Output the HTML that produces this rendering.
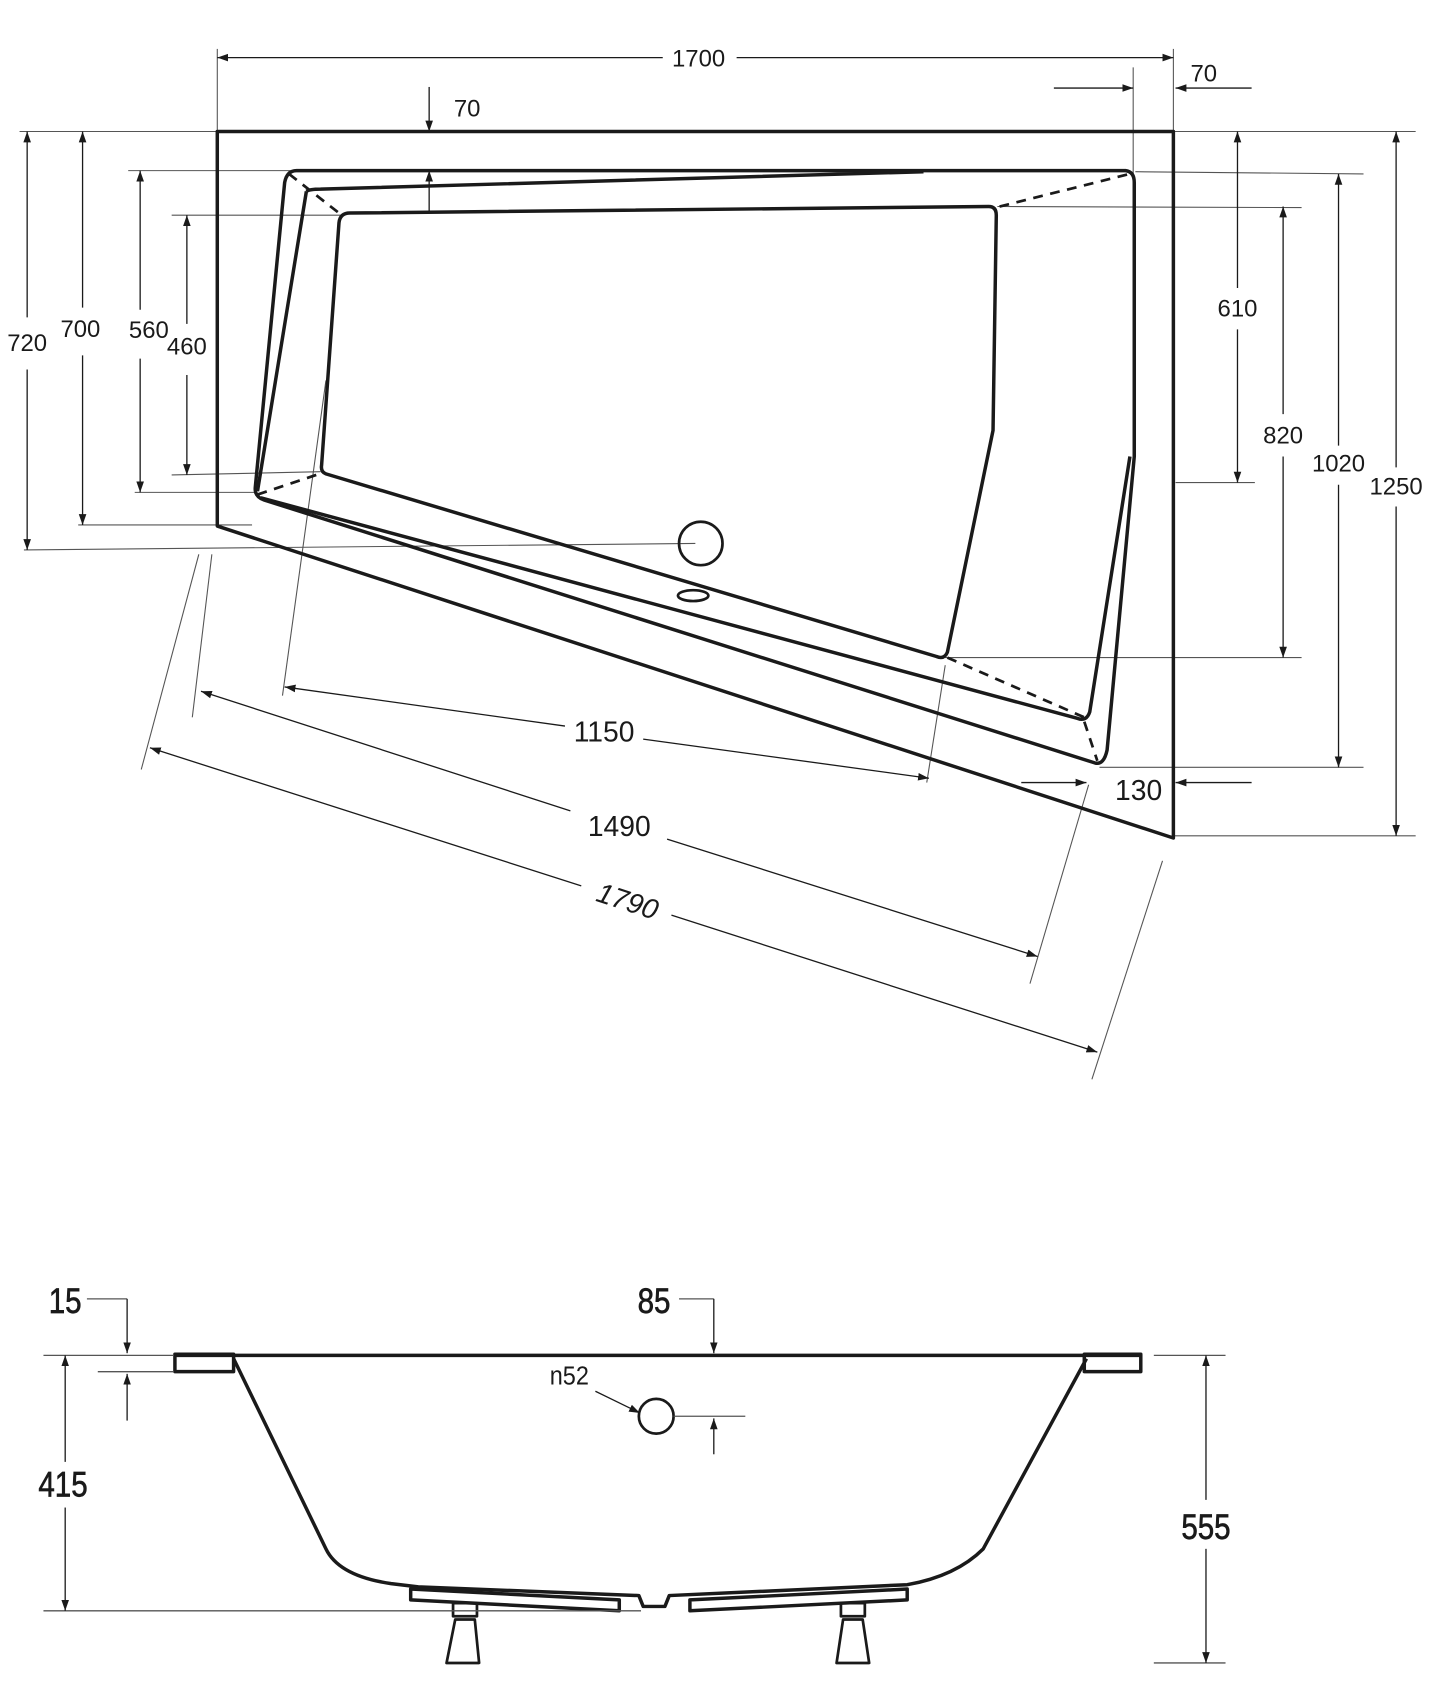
<!DOCTYPE html>
<html><head><style>
html,body{margin:0;padding:0;background:#fff}
svg{display:block}
text{font-family:"Liberation Sans",sans-serif;fill:#1a1a1a}
</style></head><body>
<svg width="1445" height="1701" viewBox="0 0 1330 1565" preserveAspectRatio="none" xmlns="http://www.w3.org/2000/svg">
<defs>
<marker id="a" viewBox="0 0 10 10" refX="10" refY="5" markerWidth="10" markerHeight="10" markerUnits="userSpaceOnUse" orient="auto-start-reverse"><path d="M0,1.5 L10,5 L0,8.5z" fill="#1a1a1a"/></marker>
</defs>
<g stroke="#1a1a1a" fill="none">
<g stroke-width="1" stroke="#555">
<line x1="200" y1="45" x2="200" y2="121"/><line x1="1080" y1="45" x2="1080" y2="121"/>
<line x1="1043" y1="62" x2="1043" y2="420"/>
<line x1="18" y1="121" x2="200" y2="121"/>
<line x1="72" y1="483" x2="232" y2="483"/>
<line x1="22" y1="506" x2="640" y2="500"/>
<line x1="118" y1="157" x2="268" y2="157"/>
<line x1="124" y1="453" x2="236" y2="453"/>
<line x1="158" y1="198" x2="315" y2="198"/>
<line x1="158" y1="437" x2="295" y2="434"/>
<line x1="1080" y1="121" x2="1303" y2="121"/>
<line x1="1045" y1="158" x2="1255" y2="160"/>
<line x1="918" y1="190" x2="1198" y2="191"/>
<line x1="1082" y1="444" x2="1155" y2="444"/>
<line x1="870" y1="605" x2="1198" y2="605"/>
<line x1="1012" y1="706" x2="1255" y2="706"/>
<line x1="1080" y1="769" x2="1303" y2="769"/>
<line x1="300" y1="350" x2="260" y2="640"/>
<line x1="870" y1="612" x2="853" y2="720"/>
<line x1="195" y1="510" x2="177" y2="660"/>
<line x1="1002" y1="722" x2="948" y2="905"/>
<line x1="183" y1="510" x2="130" y2="708"/>
<line x1="1070" y1="792" x2="1005" y2="993"/>
</g>
<g stroke-width="1.2">
<line x1="200" y1="53" x2="610" y2="53" marker-start="url(#a)"/><line x1="678" y1="53" x2="1080" y2="53" marker-end="url(#a)"/>
<line x1="970" y1="81" x2="1043" y2="81" marker-end="url(#a)"/><line x1="1152" y1="81" x2="1082" y2="81" marker-end="url(#a)"/>
<line x1="395" y1="80" x2="395" y2="121" marker-end="url(#a)"/><line x1="395" y1="195" x2="395" y2="157" marker-end="url(#a)"/>
<line x1="25" y1="121" x2="25" y2="292" marker-start="url(#a)"/><line x1="25" y1="340" x2="25" y2="506" marker-end="url(#a)"/>
<line x1="76" y1="121" x2="76" y2="283" marker-start="url(#a)"/><line x1="76" y1="327" x2="76" y2="483" marker-end="url(#a)"/>
<line x1="129" y1="157" x2="129" y2="285" marker-start="url(#a)"/><line x1="129" y1="330" x2="129" y2="453" marker-end="url(#a)"/>
<line x1="172" y1="198" x2="172" y2="298" marker-start="url(#a)"/><line x1="172" y1="345" x2="172" y2="437" marker-end="url(#a)"/>
<line x1="1139" y1="121" x2="1139" y2="265" marker-start="url(#a)"/><line x1="1139" y1="303" x2="1139" y2="444" marker-end="url(#a)"/>
<line x1="1181" y1="190" x2="1181" y2="381" marker-start="url(#a)"/><line x1="1181" y1="420" x2="1181" y2="605" marker-end="url(#a)"/>
<line x1="1232" y1="160" x2="1232" y2="410" marker-start="url(#a)"/><line x1="1232" y1="446" x2="1232" y2="706" marker-end="url(#a)"/>
<line x1="1285" y1="121" x2="1285" y2="430" marker-start="url(#a)"/><line x1="1285" y1="466" x2="1285" y2="769" marker-end="url(#a)"/>
<line x1="940" y1="720" x2="1000" y2="720" marker-end="url(#a)"/><line x1="1152" y1="720" x2="1082" y2="720" marker-end="url(#a)"/>
<line x1="262" y1="632" x2="520" y2="668" marker-start="url(#a)"/><line x1="592" y1="680" x2="855" y2="716" marker-end="url(#a)"/>
<line x1="185" y1="636" x2="525" y2="746" marker-start="url(#a)"/><line x1="614" y1="772" x2="955" y2="880" marker-end="url(#a)"/>
<line x1="138" y1="688" x2="535" y2="815" marker-start="url(#a)"/><line x1="618" y1="842" x2="1010" y2="968" marker-end="url(#a)"/>
</g>
<g stroke-width="3.2" stroke-linejoin="round">
<polygon points="200,121 1080,121 1080,771 200,484"/>
<path d="M273,157 L1036,157 Q1044,158 1044,168 L1044,420 L1019,690 Q1016,704 1008,702 L243,460 Q234,457 235,448 L262,168 Q264,157 273,157Z"/>
<path d="M282,176 Q285,174 295,174 L850,158"/>
<path d="M282,176 L237,452"/>
<path d="M1040,420 L1003,655 Q1000,664 992,661 L240,458"/>
<path d="M322,196 L910,190 Q917,190 917,198 L914,396 L872,600 Q869,607 862,604 L300,436 Q295,434 296,428 L312,205 Q313,196 322,196Z"/>
<circle cx="645" cy="500" r="20" stroke-width="2.5"/>
<ellipse cx="638" cy="548" rx="14" ry="5" stroke-width="2.5"/>
</g>
<g stroke-width="2.5" stroke-dasharray="9,7">
<line x1="266" y1="160" x2="312" y2="196"/>
<line x1="920" y1="190" x2="1040" y2="160"/>
<line x1="237" y1="455" x2="294" y2="436"/>
<line x1="872" y1="605" x2="998" y2="660"/>
<line x1="998" y1="664" x2="1010" y2="700"/>
</g>
<g stroke-width="3.2" stroke-linejoin="round">
<line x1="160" y1="1247" x2="1050" y2="1247"/>
<rect x="161" y="1246" width="54" height="16"/>
<rect x="998" y="1246" width="52" height="16"/>
<path d="M215,1250 L300,1425 Q312,1450 360,1457 L385,1460 L588,1468 L592,1478 L612,1478 L616,1468 L835,1458 Q880,1450 905,1425 L1000,1250"/>
<polygon points="378,1462 570,1472 570,1482 378,1472"/>
<polygon points="635,1472 835,1462 835,1472 635,1482"/>
<rect x="417" y="1475" width="22" height="12" stroke-width="2.5"/>
<polygon points="419,1490 437,1490 441,1530 411,1530" stroke-width="2.5"/>
<rect x="774" y="1475" width="22" height="12" stroke-width="2.5"/>
<polygon points="776,1490 794,1490 800,1530 770,1530" stroke-width="2.5"/>
<circle cx="604" cy="1303" r="16" stroke-width="2.5"/>
</g>
<g stroke-width="1.2">
<line x1="80" y1="1195" x2="117" y2="1195" stroke="#555"/><line x1="117" y1="1195" x2="117" y2="1245" marker-end="url(#a)"/>
<line x1="90" y1="1262" x2="160" y2="1262" stroke="#555"/><line x1="117" y1="1307" x2="117" y2="1264" marker-end="url(#a)"/>
<line x1="625" y1="1195" x2="657" y2="1195" stroke="#555"/><line x1="657" y1="1195" x2="657" y2="1245" marker-end="url(#a)"/>
<line x1="620" y1="1303" x2="686" y2="1303" stroke="#555"/><line x1="657" y1="1338" x2="657" y2="1305" marker-end="url(#a)"/>
<line x1="548" y1="1280" x2="589" y2="1300" marker-end="url(#a)"/>
<line x1="40" y1="1247" x2="160" y2="1247" stroke="#555"/>
<line x1="40" y1="1482" x2="590" y2="1482" stroke="#555"/>
<line x1="60" y1="1247" x2="60" y2="1345" marker-start="url(#a)"/><line x1="60" y1="1387" x2="60" y2="1482" marker-end="url(#a)"/>
<line x1="1062" y1="1247" x2="1128" y2="1247" stroke="#555"/>
<line x1="1062" y1="1530" x2="1128" y2="1530" stroke="#555"/>
<line x1="1110" y1="1247" x2="1110" y2="1380" marker-start="url(#a)"/><line x1="1110" y1="1425" x2="1110" y2="1530" marker-end="url(#a)"/>
</g>
</g>
<g font-size="22" text-anchor="middle">
<text x="643" y="61">1700</text>
<text x="1108" y="75">70</text>
<text x="430" y="107">70</text>
<text x="25" y="323">720</text>
<text x="74" y="310">700</text>
<text x="137" y="311">560</text>
<text x="172" y="326">460</text>
<text x="1139" y="291">610</text>
<text x="1181" y="408">820</text>
<text x="1232" y="434">1020</text>
<text x="1285" y="455">1250</text>
</g>
<g font-size="26" text-anchor="middle">
<text x="556" y="682">1150</text>
<text x="1048" y="736">130</text>
<text x="570" y="769">1490</text>
<text x="578" y="838" font-style="italic" transform="rotate(18 578 828)">1790</text>
</g>
<g font-size="32" text-anchor="middle" stroke="#1a1a1a" stroke-width="0.6">
<text x="60" y="1208" transform="translate(60 0) scale(0.85 1) translate(-60 0)">15</text>
<text x="602" y="1208" transform="translate(602 0) scale(0.85 1) translate(-602 0)">85</text>
<text x="58" y="1377" transform="translate(58 0) scale(0.85 1) translate(-58 0)">415</text>
<text x="1110" y="1416" transform="translate(1110 0) scale(0.85 1) translate(-1110 0)">555</text>
</g>
<text x="524" y="1274" font-size="24" text-anchor="middle" transform="translate(524 0) scale(0.9 1) translate(-524 0)">n52</text>
</svg>
</body></html>
